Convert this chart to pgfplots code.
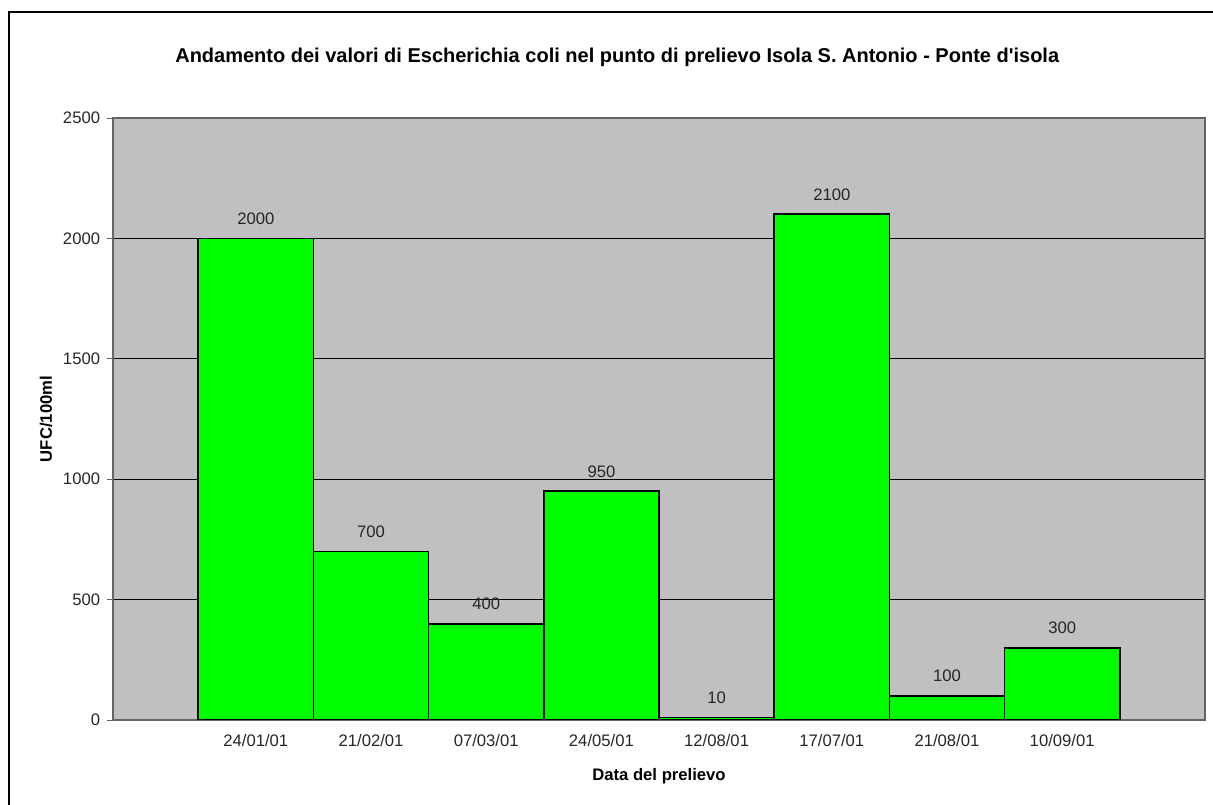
\documentclass[border=0pt]{standalone}
\usepackage{fontspec}
\setmainfont{Liberation Sans}
\usepackage{pgfplots}
\pgfplotsset{compat=1.18}
\definecolor{plotgray}{RGB}{192,192,192}
\definecolor{bargreen}{RGB}{0,255,0}
\definecolor{axgray}{RGB}{100,100,100}
\begin{document}
\begin{tikzpicture}
\begin{axis}[
  at={(84.75pt,63.75pt)}, anchor=south west,
  width=819pt, height=451.5pt, scale only axis,
  xmin=-1.24, xmax=8.24, ymin=0, ymax=2500,
  ytick={0,500,1000,1500,2000,2500},
  xtick={0,1,2,3,4,5,6,7},
  xticklabels={24/01/01,21/02/01,07/03/01,24/05/01,12/08/01,17/07/01,21/08/01,10/09/01},
  ymajorgrids, major grid style={black, line width=0.6pt},
  axis background/.style={fill=plotgray},
  axis line style={draw=axgray, line width=0.8pt},
  tick pos=left, tick align=outside, major tick length=4.5pt,
  xtick style={draw=none}, ytick style={draw=axgray, line width=0.6pt},
  /pgf/number format/.cd, 1000 sep={}, assume math mode=true, /pgfplots/.cd,
  tick label style={font=\fontsize{12.5}{14}\selectfont, text=black!85},
  yticklabel style={anchor=east, inner sep=0pt, xshift=-5pt},
  xticklabel style={anchor=north, inner sep=0pt, yshift=-6pt},
  ybar, bar width=1,
  nodes near coords,
  nodes near coords style={font=\fontsize{12.5}{14}\selectfont, text=black!85, anchor=south, inner sep=0pt, yshift=9.75pt},
  xlabel={Data del prelievo},
  ylabel={UFC/100ml},
  xlabel style={font=\fontsize{12.5}{14}\selectfont\bfseries, at={(axis description cs:0.5,0)}, anchor=base, yshift=-45.75pt},
  ylabel style={font=\fontsize{12.5}{14}\selectfont\bfseries, at={(axis description cs:-0.05586,0.5)}, anchor=base, rotate=0},
]
\addplot[fill=bargreen, draw=black, line width=1.3pt] coordinates {(0,2000) (1,700) (2,400) (3,950) (4,10) (5,2100) (6,100) (7,300)};
\end{axis}
\node[anchor=base, font=\fontsize{15}{18}\selectfont\bfseries, inner sep=0pt] at (462.9pt,556.5pt) {Andamento dei valori di Escherichia coli nel punto di prelievo Isola S. Antonio - Ponte d\textquotesingle isola};
\draw[line width=1.5pt, black] (6.75pt,-5pt) -- (6.75pt,594.75pt) -- (920pt,594.75pt);
\pgfresetboundingbox
\useasboundingbox (0,0) rectangle (909.75pt,603.75pt);
\end{tikzpicture}
\end{document}
